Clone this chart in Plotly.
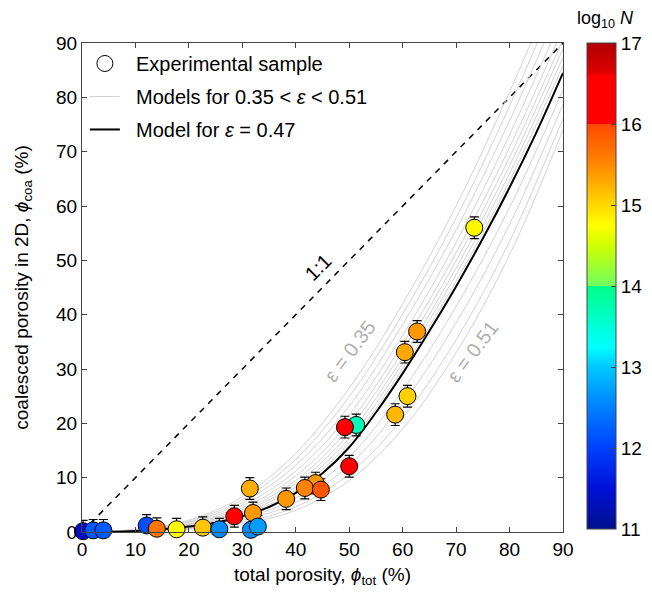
import plotly.graph_objects as go

# ---------------- data ----------------
phi_tot = [0.2, 2.1, 4.0, 12.1, 14.0, 17.7, 22.6, 25.7, 28.5, 31.4, 32.0, 31.6, 32.9,
           38.2, 43.7, 41.7, 44.7, 51.3, 49.2, 50.0, 58.6, 60.9, 60.4, 62.7, 73.4]
phi_coa = [0.15, 0.3, 0.3, 1.2, 0.6, 0.5, 0.8, 0.5, 2.9, 8.0, 3.5, 0.4, 1.0,
           6.1, 9.0, 8.1, 7.8, 19.7, 19.3, 12.1, 21.6, 25.0, 33.1, 36.9, 56.0]
phi_err = [2.0] * 25
log10_N = [11.4, 12.2, 12.2, 12.1, 15.65, 14.75, 15.1, 12.6, 16.3, 15.27, 15.4, 12.6, 12.7,
           15.4, 15.4, 15.55, 15.9, 13.7, 16.3, 16.3, 15.2, 15.05, 15.3, 15.4, 14.8]

# model curves for 0.35 < eps < 0.51 (phi_coa read at phi_tot = 0,10,...,90)
model_x = [0, 10, 20, 30, 40, 50, 60, 70, 80, 90]
models_gray = [
    [0, 0.50, 2.20, 6.50, 14.5, 26.5, 42.0, 60.0, 81.0, 104.0],   # eps = 0.35
    [0, 0.46, 2.02, 5.96, 13.4, 24.9, 40.1, 57.8, 78.4, 101.1],
    [0, 0.41, 1.84, 5.42, 12.3, 23.2, 38.2, 55.6, 75.7, 98.2],
    [0, 0.37, 1.66, 4.88, 11.2, 21.6, 36.2, 53.3, 73.1, 95.2],
    [0, 0.33, 1.50, 4.41, 10.3, 20.2, 34.6, 51.4, 70.8, 92.7],
    [0, 0.30, 1.38, 4.05, 9.5, 19.1, 33.3, 49.9, 69.0, 90.7],
    [0, 0.27, 1.28, 3.73, 8.9, 18.1, 32.1, 48.6, 67.4, 89.0],
    [0, 0.25, 1.18, 3.44, 8.3, 17.2, 31.1, 47.4, 66.0, 87.4],
    [0, 0.22, 1.08, 3.15, 7.7, 16.4, 30.1, 46.2, 64.6, 85.9],
    [0, 0.17, 0.85, 2.48, 6.24, 13.8, 26.1, 41.5, 59.7, 81.4],
    [0, 0.15, 0.73, 2.13, 5.44, 12.3, 23.6, 38.5, 56.6, 78.7],
    [0, 0.12, 0.60, 1.78, 4.64, 10.7, 21.0, 35.4, 53.5, 76.1],
    [0, 0.10, 0.50, 1.50, 4.00, 9.5, 19.0, 33.0, 51.0, 74.0],     # eps = 0.51
]
best_x = [0, 5, 10, 15, 20, 25, 30, 35, 40, 45, 50, 55, 60, 65, 70, 75, 80, 85, 90]
best_y = [0, 0.05, 0.2, 0.5, 1.0, 1.7, 2.9, 4.6, 7.2, 10.8, 15.6, 22.0, 29.2, 37.0,
          45.2, 54.0, 63.4, 73.5, 84.5]                            # eps = 0.47

one_to_one = [0, 90]
x_ticks = [0, 10, 20, 30, 40, 50, 60, 70, 80, 90]
cb_ticks = [11, 12, 13, 14, 15, 16, 17]

# ---------------- styling ----------------
FONT = "Liberation Sans, Arial, Helvetica, sans-serif"
AX = "#444444"
colorscale = [
    [0.0, "#00108c"], [0.0833, "#0010d8"], [0.1667, "#0040ff"], [0.25, "#0080ff"],
    [0.3333, "#00c8ff"], [0.375, "#00ffff"], [0.4583, "#00ffb0"], [0.4999, "#00ff88"],
    [0.5, "#70ff60"], [0.5833, "#d0ff00"], [0.625, "#ffff00"], [0.6667, "#ffd800"],
    [0.75, "#ff8800"], [0.8332, "#ff4800"], [0.8334, "#ff0000"], [0.93, "#ff0000"],
    [0.94, "#dd0000"], [1.0, "#b00000"],
]
NB = "\u00a0\u00a0"

fig = go.Figure()

# 1:1 line
fig.add_trace(go.Scatter(x=one_to_one, y=one_to_one, mode="lines",
                         line=dict(color="black", width=1.5, dash="6px,6px"),
                         showlegend=False, hoverinfo="skip"))

# gray model curves
for i, ys in enumerate(models_gray):
    fig.add_trace(go.Scatter(x=model_x, y=ys, mode="lines",
                             line=dict(color="#d3d3d3", width=1, shape="spline"),
                             name=NB + "Models for 0.35 &lt; <i>ε</i> &lt; 0.51",
                             legendgroup="g2", showlegend=(i == 0), hoverinfo="skip"))

# best model
fig.add_trace(go.Scatter(x=best_x, y=best_y, mode="lines",
                         line=dict(color="black", width=2, shape="spline"),
                         name=NB + "Model for <i>ε</i> = 0.47", legendgroup="g3",
                         showlegend=True, hoverinfo="skip"))

# legend dummy for samples
fig.add_trace(go.Scatter(x=[None], y=[None], mode="markers",
                         marker=dict(size=17, color="white", line=dict(color="black", width=1)),
                         name=NB + "Experimental sample", legendgroup="g1", legendrank=1))

err_minus = [min(e, y) for e, y in zip(phi_err, phi_coa)]
fig.add_trace(go.Scatter(
    x=phi_tot, y=phi_coa, mode="markers", showlegend=False, cliponaxis=False,
    error_y=dict(type="data", array=phi_err, arrayminus=err_minus, symmetric=False,
                 color="black", thickness=1.2, width=4.5),
    marker=dict(size=17, color=log10_N, cmin=11, cmax=17, colorscale=colorscale,
                line=dict(color="black", width=1), showscale=True,
                colorbar=dict(thickness=29, len=486, lenmode="pixels", y=1, yanchor="top",
                              x=1 + 24 / 487, xanchor="left", xpad=0, ypad=0,
                              outlinecolor=AX, outlinewidth=1, tickvals=cb_ticks,
                              ticks="inside", ticklen=5, tickcolor=AX,
                              tickfont=dict(size=19, color="black", family=FONT))),
))

axis_common = dict(range=[0, 90], tickvals=x_ticks, ticks="inside", ticklen=5, tickwidth=1.2,
                   tickcolor=AX, showline=True, linecolor=AX, linewidth=1.2, mirror="ticks",
                   showgrid=False, zeroline=False, automargin=False,
                   tickfont=dict(size=19, color="black", family=FONT))

# page body has an 8px default margin, so the figure is offset by (8, 8)
fig.update_layout(
    width=652, height=594,
    margin=dict(l=74, r=91, t=35, b=70),
    paper_bgcolor="white", plot_bgcolor="white",
    font=dict(family=FONT, color="black"),
    xaxis=dict(**axis_common,
               title=dict(text="total porosity, <i>ϕ</i><sub>tot</sub> (%)",
                          font=dict(size=19), standoff=8)),
    yaxis=dict(**axis_common,
               title=dict(text="coalesced porosity in 2D, <i>ϕ</i><sub>coa</sub> (%)",
                          font=dict(size=19), standoff=22)),
    legend=dict(x=0.006, y=0.998, xanchor="left", yanchor="top", bgcolor="rgba(0,0,0,0)",
                font=dict(size=20, family=FONT), itemwidth=30, traceorder="grouped",
                tracegroupgap=4),
    annotations=[
        dict(x=44.2, y=48.8, xref="x", yref="y", text="1:1", showarrow=False,
             textangle=-45, font=dict(size=20, color="black")),
        dict(x=50.1, y=33.4, xref="x", yref="y", text="ε = 0.35", showarrow=False,
             textangle=-53, font=dict(size=20, color="#b0b0b0")),
        dict(x=73.0, y=33.2, xref="x", yref="y", text="ε = 0.51", showarrow=False,
             textangle=-53, font=dict(size=20, color="#b0b0b0")),
        dict(x=1.088, y=1.022, xref="paper", yref="paper", text="log<sub>10</sub> <i>N</i>",
             showarrow=False, xanchor="center", yanchor="bottom", borderpad=0,
             font=dict(size=18, color="black")),
    ],
)

fig.write_html("out.html")
